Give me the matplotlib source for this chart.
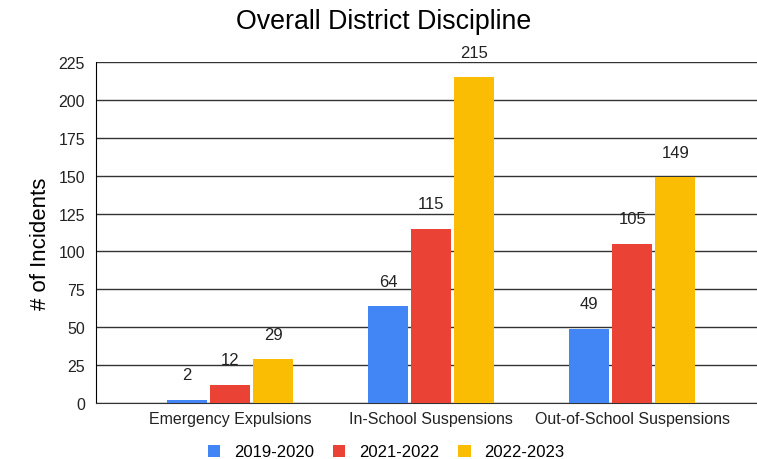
import matplotlib.pyplot as plt
import numpy as np

categories = ['Emergency Expulsions', 'In-School Suspensions', 'Out-of-School Suspensions']
series_names = ['2019-2020', '2021-2022', '2022-2023']
values_2019 = [2, 64, 49]
values_2021 = [12, 115, 105]
values_2022 = [29, 215, 149]
colors = ['#4285F4', '#EA4335', '#FBBC04']

plt.rcParams['font.family'] = ['Liberation Sans', 'DejaVu Sans']

fig = plt.figure(figsize=(7.57, 4.6), dpi=100)
ax = fig.add_axes([96 / 757, 1 - 404 / 460, 1 - 96 / 757, (404 - 63) / 460])

x = np.arange(len(categories))
width = 0.2
step = 0.214
all_values = [values_2019, values_2021, values_2022]
for i, (name, vals, col) in enumerate(zip(series_names, all_values, colors)):
    pos = x + (i - 1) * step
    bars = ax.bar(pos, vals, width, color=col, label=name, zorder=3)
    for b, v in zip(bars, vals):
        ax.annotate(str(v), (b.get_x() + b.get_width() / 2, v), xytext=(0, 18),
                    textcoords='offset points', ha='center', va='center',
                    fontsize=12, color='#222222', zorder=4)

ax.set_xlim(-0.667, 2.62)
ax.set_ylim(0, 225)
ax.set_yticks(range(0, 226, 25))
ax.set_xticks(x)
ax.set_xticklabels(categories, fontsize=11.5, color='#222222')
ax.tick_params(axis='y', labelsize=11.5, labelcolor='#222222', length=0, pad=8)
ax.tick_params(axis='x', length=0, pad=6)
ax.grid(axis='y', color='#333333', linewidth=1, zorder=0)
for s in ['top', 'right']:
    ax.spines[s].set_visible(False)
ax.spines['left'].set_color('black')
ax.spines['bottom'].set_color('#333333')

# y label placed by hand
fig.text(40 / 757, 1 - 244 / 460, '# of Incidents', rotation=90, ha='center', va='center', fontsize=16)
fig.text(384 / 757, 1 - 22 / 460, 'Overall District Discipline', ha='center', va='center', fontsize=19.3)

fig.legend(loc='center', bbox_to_anchor=(386 / 757, 1 - 453 / 460), ncol=3, frameon=False,
           fontsize=12, handlelength=0.75, handleheight=0.75, columnspacing=1.15, handletextpad=0.8)

fig.savefig('out.png', dpi=100)
